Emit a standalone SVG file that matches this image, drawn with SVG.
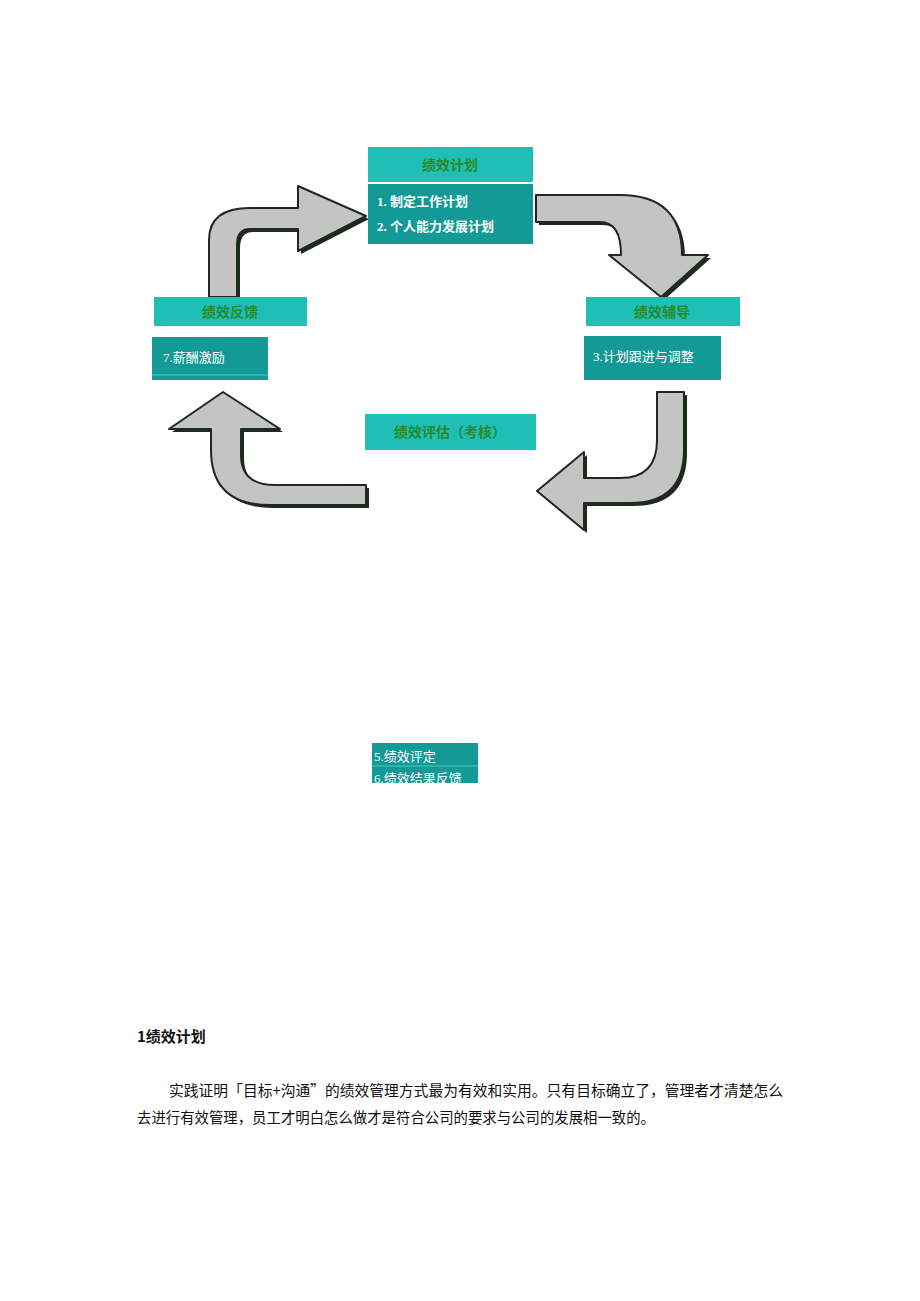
<svg xmlns="http://www.w3.org/2000/svg" width="920" height="1301" viewBox="0 0 920 1301">
<style>
.hd{fill:#1fbfb6}
.bd{fill:#139a96}
.ht{font-family:"Noto Sans CJK SC",sans-serif;font-size:14px;fill:#2a8a2a;font-weight:bold;text-anchor:middle}
.bt{font-family:"Liberation Serif","Noto Sans CJK SC",serif;font-size:13px;fill:#ffffff}
.ar{fill:#c4c4c4;stroke:#1e2a1e;stroke-width:2;stroke-linejoin:round}
.sh{fill:#1e2a1e}
.tx{font-family:"Noto Sans CJK SC",sans-serif;font-size:15px;fill:#111}
</style>
<defs><clipPath id="cb"><rect x="372" y="743" width="106" height="40"/></clipPath></defs>
<rect width="920" height="1301" fill="#fff"/>
<g id="connectors">
<path class="sh" transform="translate(3,3)" d="M209,297 L209,240 Q209,208 250,208 L298,208 L298,186 L366,216 L298,251 L298,229 L250,229 Q237,229 237,245 L237,297 Z"/>
<path class="ar" d="M209,297 L209,240 Q209,208 250,208 L298,208 L298,186 L366,216 L298,251 L298,229 L250,229 Q237,229 237,245 L237,297 Z"/>
<path class="sh" transform="translate(3,3)" d="M536,195 L620,195 Q682,195 682,255 L708,255 L661,297 L609,255 L621,255 Q621,222 600,222 L536,222 Z"/>
<path class="ar" d="M536,195 L620,195 Q682,195 682,255 L708,255 L661,297 L609,255 L621,255 Q621,222 600,222 L536,222 Z"/>
<path class="sh" transform="translate(3,3)" d="M657,392 L684,392 L684,450 Q684,503 630,503 L584,503 L584,530 L537,491 L584,452 L584,478 L620,478 Q657,478 657,440 Z"/>
<path class="ar" d="M657,392 L684,392 L684,450 Q684,503 630,503 L584,503 L584,530 L537,491 L584,452 L584,478 L620,478 Q657,478 657,440 Z"/>
<path class="sh" transform="translate(3,3)" d="M366,485 L366,505 L270,505 Q211,505 211,450 L211,429 L169,429 L223,392 L280,429 L241,429 L241,455 Q241,485 275,485 Z"/>
<path class="ar" d="M366,485 L366,505 L270,505 Q211,505 211,450 L211,429 L169,429 L223,392 L280,429 L241,429 L241,455 Q241,485 275,485 Z"/>
</g>
<g id="plan">
<rect class="hd" x="368" y="147" width="165" height="35"/>
<text class="ht" x="450" y="170">绩效计划</text>
<rect class="bd" x="368" y="184" width="165" height="60"/>
<text class="bt" x="377" y="206" font-weight="bold">1. 制定工作计划</text>
<text class="bt" x="377" y="231" font-weight="bold">2. 个人能力发展计划</text>
</g>
<g id="feedback">
<rect class="hd" x="154" y="297" width="153" height="29"/>
<text class="ht" x="230" y="317">绩效反馈</text>
<rect class="bd" x="152" y="337" width="116" height="43"/>
<line x1="152" y1="375" x2="268" y2="375" stroke="#4fc9c2" stroke-width="1"/>
<text class="bt" x="163" y="362">7.薪酬激励</text>
</g>
<g id="coach">
<rect class="hd" x="586" y="297" width="154" height="29"/>
<text class="ht" x="662" y="317">绩效辅导</text>
<rect class="bd" x="584" y="336" width="137" height="44"/>
<text class="bt" x="593" y="361">3.计划跟进与调整</text>
</g>
<g id="eval">
<rect class="hd" x="365" y="414" width="171" height="36"/>
<text class="ht" x="450" y="437">绩效评估（考核）</text>
</g>
<g id="evalbox" clip-path="url(#cb)">
<rect class="bd" x="372" y="743" width="106" height="40"/>
<line x1="372" y1="766" x2="478" y2="766" stroke="#4fc9c2"/>
<text class="bt" x="374" y="761">5.绩效评定</text>
<text class="bt" x="374" y="783">6.绩效结果反馈</text>
</g>
<text class="tx" x="137" y="1042" font-size="14" font-weight="bold">1绩效计划</text>
<text class="tx" x="169" y="1096" textLength="614" lengthAdjust="spacingAndGlyphs">实践证明「目标+沟通”的绩效管理方式最为有效和实用。只有目标确立了，管理者才清楚怎么</text>
<text class="tx" x="137" y="1123" textLength="518" lengthAdjust="spacingAndGlyphs">去进行有效管理，员工才明白怎么做才是符合公司的要求与公司的发展相一致的。</text>
</svg>
